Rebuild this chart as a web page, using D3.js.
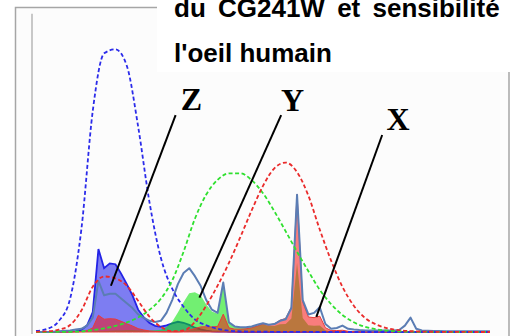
<!DOCTYPE html>
<html>
<head>
<meta charset="utf-8">
<script src="https://cdn.jsdelivr.net/npm/d3@7"></script>
<style>
  body { margin: 0; background: #fff; }
  svg { display: block; }
</style>
</head>
<body>
<div id="chart"></div>
<script>
// CIE 1931 colour matching functions, 10 nm steps
const cmfWavelengths = [380, 390, 400, 410, 420, 430, 440, 450, 460, 470,
  480, 490, 500, 510, 520, 530, 540, 550, 560, 570,
  580, 590, 600, 610, 620, 630, 640, 650, 660, 670,
  680, 690, 700, 710, 720, 730, 740, 750, 760, 770, 780];
const xBar = [0.0014, 0.0042, 0.0143, 0.0435, 0.1344, 0.2839, 0.3483, 0.3362, 0.2908, 0.1954,
  0.0956, 0.0320, 0.0049, 0.0093, 0.0633, 0.1655, 0.2904, 0.4334, 0.5945, 0.7621,
  0.9163, 1.0263, 1.0622, 1.0026, 0.8544, 0.6424, 0.4479, 0.2835, 0.1649, 0.0874,
  0.0468, 0.0227, 0.0114, 0.0058, 0.0029, 0.0014, 0.0007, 0.0003, 0.0002, 0.0001, 0];
const yBar = [0, 0.0001, 0.0004, 0.0012, 0.0040, 0.0116, 0.0230, 0.0380, 0.0600, 0.0910,
  0.1390, 0.2080, 0.3230, 0.5030, 0.7100, 0.8620, 0.9540, 0.9950, 0.9950, 0.9520,
  0.8700, 0.7570, 0.6310, 0.5030, 0.3810, 0.2650, 0.1750, 0.1070, 0.0610, 0.0320,
  0.0170, 0.0082, 0.0041, 0.0021, 0.0010, 0.0005, 0.0002, 0.0001, 0.0001, 0, 0];
const zBar = [0.0065, 0.0201, 0.0679, 0.2074, 0.6456, 1.3856, 1.7471, 1.7721, 1.6692, 1.2876,
  0.8130, 0.4652, 0.2720, 0.1582, 0.0782, 0.0422, 0.0203, 0.0087, 0.0039, 0.0021,
  0.0017, 0.0011, 0.0008, 0.0003, 0.0002, 0, 0, 0, 0, 0,
  0, 0, 0, 0, 0, 0, 0, 0, 0, 0, 0];

// CG241W spectrum and its X / Y / Z weighted parts, 5 nm steps
const specWavelengths = [380, 385, 390, 395, 400, 405, 410, 415, 420, 425,
  430, 435, 440, 445, 450, 455, 460, 465, 470, 475,
  480, 485, 490, 495, 500, 505, 510, 515, 520, 525,
  530, 535, 540, 545, 550, 555, 560, 565, 570, 575,
  580, 585, 590, 595, 600, 605, 610, 615, 620, 625,
  630, 635, 640, 645, 650, 655, 660, 665, 670, 675,
  680, 685, 690, 695, 700, 705, 710, 715, 720, 725,
  730, 735, 740, 745, 750, 755, 760, 765, 770, 775, 780];
const spectrum = [0, 0, 0, 0.002, 0.005, 0.008, 0.01, 0.015, 0.02, 0.04,
  0.09, 0.32, 0.23, 0.24, 0.24, 0.21, 0.18, 0.15, 0.11, 0.088,
  0.07, 0.063, 0.07, 0.12, 0.2, 0.3, 0.37, 0.4, 0.35, 0.29,
  0.2, 0.14, 0.12, 0.31, 0.06, 0.035, 0.03, 0.03, 0.035, 0.045,
  0.055, 0.045, 0.05, 0.07, 0.08, 0.15, 0.86, 0.2, 0.11, 0.12,
  0.155, 0.05, 0.02, 0.025, 0.04, 0.02, 0.015, 0.012, 0.01, 0.01,
  0.01, 0.01, 0.01, 0.01, 0.012, 0.04, 0.09, 0.02, 0.01, 0.008,
  0.006, 0.006, 0.005, 0.005, 0.005, 0.005, 0.004, 0.004, 0.004, 0.004, 0.004];
const zPart = [0, 0, 0, 0.0001, 0.0003, 0.001, 0.002, 0.006, 0.013, 0.042,
  0.125, 0.52, 0.40, 0.43, 0.425, 0.366, 0.30, 0.23, 0.14, 0.092,
  0.057, 0.039, 0.033, 0.042, 0.054, 0.064, 0.058, 0.045, 0.027, 0.017,
  0.008, 0.004, 0.0024, 0.004, 0.0005, 0.0002, 0.0001, 0, 0, 0,
  0, 0, 0, 0, 0, 0, 0, 0, 0, 0,
  0, 0, 0, 0, 0, 0, 0, 0, 0, 0,
  0, 0, 0, 0, 0, 0, 0, 0, 0, 0,
  0, 0, 0, 0, 0, 0, 0, 0, 0, 0, 0];
const yPart = [0, 0, 0, 0, 0, 0, 0, 0, 0.0001, 0.0002,
  0.001, 0.0054, 0.0053, 0.0072, 0.0091, 0.010, 0.011, 0.011, 0.010, 0.0099,
  0.0097, 0.0107, 0.0146, 0.031, 0.065, 0.122, 0.186, 0.243, 0.249, 0.23,
  0.172, 0.128, 0.114, 0.304, 0.06, 0.035, 0.030, 0.029, 0.033, 0.041,
  0.048, 0.037, 0.038, 0.049, 0.050, 0.085, 0.433, 0.088, 0.042, 0.039,
  0.041, 0.011, 0.0035, 0.0035, 0.0043, 0.0016, 0.0009, 0.0005, 0.0003, 0.0002,
  0.0002, 0.0001, 0.0001, 0, 0, 0.0002, 0.0002, 0, 0, 0,
  0, 0, 0, 0, 0, 0, 0, 0, 0, 0, 0];
const xPart = [0, 0, 0, 0, 0.0001, 0.0002, 0.0004, 0.0012, 0.0027, 0.0086,
  0.026, 0.105, 0.080, 0.0835, 0.081, 0.067, 0.052, 0.038, 0.021, 0.0125,
  0.0067, 0.0037, 0.0022, 0.0018, 0.001, 0.0007, 0.0034, 0.0116, 0.022, 0.032,
  0.033, 0.032, 0.035, 0.112, 0.026, 0.018, 0.018, 0.020, 0.027, 0.038,
  0.050, 0.044, 0.051, 0.074, 0.085, 0.157, 0.862, 0.188, 0.094, 0.090,
  0.0996, 0.027, 0.009, 0.009, 0.011, 0.0044, 0.0025, 0.0015, 0.0009, 0.0006,
  0.0005, 0.0003, 0.0002, 0.0001, 0.0001, 0.0003, 0.0005, 0.0001, 0, 0,
  0, 0, 0, 0, 0, 0, 0, 0, 0, 0, 0];

const titleLines = ['du CG241W et sensibilité', "l'oeil humain"];

// labels with leader lines, in wavelength / value units
const labels = ['Z', 'Y', 'X'];
const labelAt = [[517, 1.39], [606, 1.385], [699, 1.265]];
const leaderFrom = [[503, 1.36], [596, 1.36], [685, 1.235]];
const leaderTo = [[446, 0.29], [524, 0.215], [627, 0.095]];

const width = 510;
const height = 336;

const svg = d3.select('#chart')
  .append('svg')
  .attr('width', width)
  .attr('height', height);

const x = d3.scaleLinear().domain([380, 780]).range([36, 490]);
const y = d3.scaleLinear().domain([0, 2]).range([332, 13]);

// frame
svg.append('rect')
  .attr('x', 15.5).attr('y', 7.5)
  .attr('width', 493.5).attr('height', 340)
  .attr('fill', '#fcfcfc')
  .attr('stroke', '#a6a6a6')
  .attr('stroke-width', 1.5);

svg.append('line')
  .attr('x1', 32).attr('x2', 32)
  .attr('y1', y(1.995)).attr('y2', 334)
  .attr('stroke', '#c8c8c8')
  .attr('stroke-width', 2);

const spec = specWavelengths.map((w, i) => ({ w, s: spectrum[i], x: xPart[i], y: yPart[i], z: zPart[i] }));
const cmf = cmfWavelengths.map((w, i) => ({ w, x: xBar[i], y: yBar[i], z: zBar[i] }));

const area = key => d3.area()
  .x(d => x(d.w))
  .y0(y(0))
  .y1(d => y(d[key]));
const line = (key, curve) => d3.line()
  .x(d => x(d.w))
  .y(d => y(d[key]))
  .curve(curve);

// weighted spectrum areas
svg.append('path').datum(spec)
  .attr('d', area('z'))
  .attr('fill', 'rgba(40,40,235,0.6)');
svg.append('path').datum(spec)
  .attr('d', line('z', d3.curveLinear))
  .attr('fill', 'none')
  .attr('stroke', '#2323e6')
  .attr('stroke-width', 1.8);

svg.append('path').datum(spec)
  .attr('d', area('y'))
  .attr('fill', 'rgba(0,228,0,0.55)');

svg.append('path').datum(spec)
  .attr('d', area('x'))
  .attr('fill', 'rgba(245,20,20,0.55)')
  .attr('stroke', '#e83a3a')
  .attr('stroke-width', 1);

// raw spectrum
svg.append('path').datum(spec)
  .attr('d', line('s', d3.curveLinear))
  .attr('fill', 'none')
  .attr('stroke', '#5b7db4')
  .attr('stroke-width', 2)
  .attr('stroke-linejoin', 'round');

// eye sensitivity curves
const cmfColors = { z: '#2b2bea', y: '#2fe02f', x: '#ea2b2b' };
['z', 'y', 'x'].forEach(k => {
  svg.append('path').datum(cmf)
    .attr('d', line(k, d3.curveMonotoneX))
    .attr('fill', 'none')
    .attr('stroke', cmfColors[k])
    .attr('stroke-width', 1.8)
    .attr('stroke-dasharray', '4,2.5');
});

// leader lines and letters
labels.forEach((t, i) => {
  svg.append('line')
    .attr('x1', x(leaderFrom[i][0])).attr('y1', y(leaderFrom[i][1]))
    .attr('x2', x(leaderTo[i][0])).attr('y2', y(leaderTo[i][1]))
    .attr('stroke', '#000')
    .attr('stroke-width', 2);
  svg.append('text')
    .attr('x', x(labelAt[i][0])).attr('y', y(labelAt[i][1]))
    .attr('text-anchor', 'middle')
    .attr('font-family', '"Liberation Serif", "Times New Roman", serif')
    .attr('font-weight', 'bold')
    .attr('font-size', 32)
    .text(t);
});

// title block
svg.append('rect')
  .attr('x', 157).attr('y', 0)
  .attr('width', 353).attr('height', 72)
  .attr('fill', '#fff');

svg.selectAll('.title')
  .data(titleLines)
  .join('text')
  .attr('class', 'title')
  .attr('x', 174)
  .attr('y', (d, i) => 17 + i * 45)
  .attr('font-family', '"Liberation Sans", Arial, sans-serif')
  .attr('font-weight', 'bold')
  .attr('font-size', 26)
  .attr('word-spacing', (d, i) => i === 0 ? 5 : 0)
  .text(d => d);
</script>
</body>
</html>
